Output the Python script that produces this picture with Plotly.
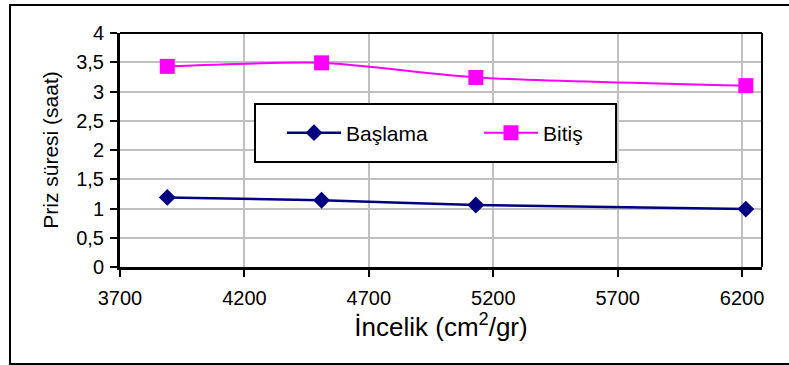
import plotly.graph_objects as go

# Fineness (cm2/gr) and setting times (hours)
incelik = [3890, 4510, 5130, 6215]
baslama = [1.19, 1.14, 1.06, 0.99]
bitis = [3.43, 3.49, 3.24, 3.10]

x_ticks = [3700, 4200, 4700, 5200, 5700, 6200]
y_ticks = [0, 0.5, 1, 1.5, 2, 2.5, 3, 3.5, 4]
y_tick_text = ["0", "0,5", "1", "1,5", "2", "2,5", "3", "3,5", "4"]

FONT = "Arial, 'Liberation Sans', sans-serif"
W, H = 789, 365
L, R, T, B = 120, 27, 33, 98

fig = go.Figure()
fig.add_trace(go.Scatter(
    x=incelik, y=baslama, name="Başlama", mode="lines+markers",
    line=dict(color="#000080", width=2.5, shape="spline", smoothing=0.6),
    marker=dict(symbol="diamond", size=13, color="#000080"),
))
fig.add_trace(go.Scatter(
    x=incelik, y=bitis, name="Bitiş", mode="lines+markers",
    line=dict(color="#FF00FF", width=2, shape="spline", smoothing=0.6),
    marker=dict(symbol="square", size=15, color="#FF00FF"),
))

pw = W - L - R
ph = H - T - B


def px_x(p):
    return (p - L) / pw


def px_y(p):
    return (H - B - p) / ph


shapes = [
    # outer chart border
    dict(type="rect", xref="paper", yref="paper",
         x0=px_x(10), x1=px_x(800), y0=px_y(364), y1=px_y(5),
         line=dict(color="black", width=2), layer="below"),
    # top and right edges of the plot area
    dict(type="line", xref="paper", yref="paper", x0=0, x1=1, y0=1, y1=1,
         line=dict(color="black", width=2)),
    dict(type="line", xref="paper", yref="paper", x0=1, x1=1, y0=0, y1=1,
         line=dict(color="black", width=2)),
    # legend box
    dict(type="rect", xref="paper", yref="paper",
         x0=px_x(255), x1=px_x(616), y0=px_y(162), y1=px_y(104),
         fillcolor="white", line=dict(color="black", width=2), layer="above"),
]

fig.update_layout(
    width=W, height=H,
    margin=dict(l=L, r=R, t=T, b=B),
    paper_bgcolor="white", plot_bgcolor="white",
    font=dict(family=FONT, color="black", size=20),
    shapes=shapes,
    showlegend=True,
    legend=dict(
        orientation="h", x=px_x(282), y=px_y(133), xanchor="left", yanchor="middle",
        bgcolor="rgba(0,0,0,0)", borderwidth=0,
        font=dict(family=FONT, size=21, color="black"),
        itemwidth=54, entrywidth=128, entrywidthmode="pixels",
    ),
    xaxis=dict(
        range=[3700, 6280], tickvals=x_ticks, ticktext=[str(v) for v in x_ticks],
        showgrid=True, gridcolor="#C0C0C0", gridwidth=2,
        showline=True, linecolor="black", linewidth=3,
        ticks="outside", ticklen=7, tickwidth=2, tickcolor="black",
        tickfont=dict(family=FONT, size=20),
        ticklabelstandoff=4,
        zeroline=False,
        title=dict(text="İncelik (cm<sup>2</sup>/gr)", font=dict(family=FONT, size=26), standoff=9),
    ),
    yaxis=dict(
        range=[0, 4], tickvals=y_ticks, ticktext=y_tick_text,
        showgrid=True, gridcolor="#C0C0C0", gridwidth=2,
        showline=True, linecolor="black", linewidth=3,
        ticks="outside", ticklen=7, tickwidth=2, tickcolor="black",
        tickfont=dict(family=FONT, size=20),
        ticklabelstandoff=2,
        zeroline=False,
        title=dict(text="Priz süresi (saat)", font=dict(family=FONT, size=21), standoff=12),
    ),
)

fig.write_html("out.html")
